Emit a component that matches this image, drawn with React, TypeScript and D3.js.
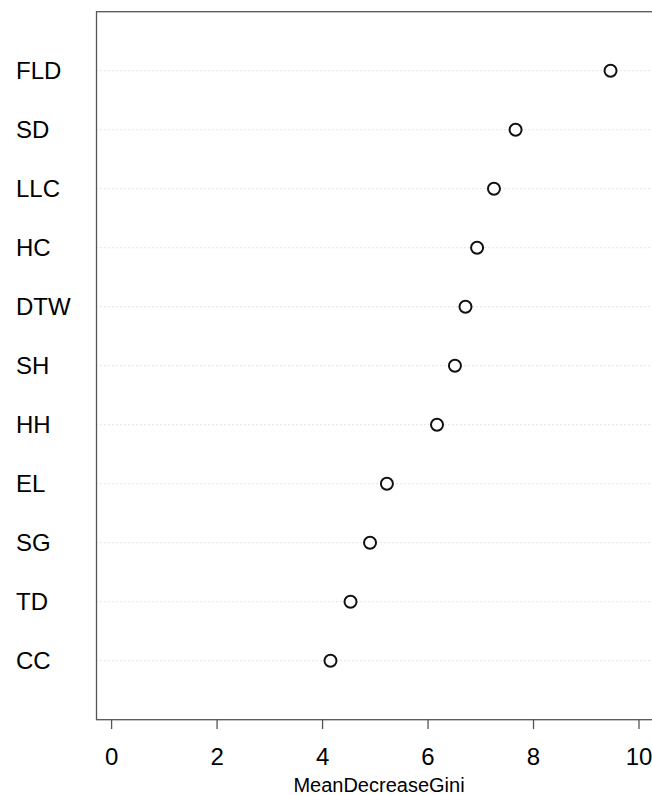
import React from "react";
import * as d3 from "d3";

const categories = ["FLD", "SD", "LLC", "HC", "DTW", "SH", "HH", "EL", "SG", "TD", "CC"];
const values = [9.46, 7.66, 7.25, 6.93, 6.71, 6.51, 6.17, 5.22, 4.9, 4.53, 4.15];
const xTicks = [0, 2, 4, 6, 8, 10];
const xTitle = "MeanDecreaseGini";

const W = 652;
const H = 795;
const left = 96.5;
const top = 11.7;
const bottom = 719.7;
const right = 700;

export default function App() {
  const x = d3.scaleLinear().domain([0, 10]).range([111.6, 639]);
  const n = categories.length;
  const y = d3.scaleLinear().domain([0, n + 1]).range([bottom, top]);
  const font = "'Liberation Sans', Arial, Helvetica, sans-serif";

  return (
    <div style={{ position: "absolute", left: 0, top: 0 }}>
      <svg width={W} height={H} style={{ display: "block", background: "#fff" }}>
        {categories.map((c, i) => {
          const yy = y(n - i);
          return (
            <g key={c}>
              <line
                x1={left}
                x2={right}
                y1={yy}
                y2={yy}
                stroke="#c8c8c8"
                strokeWidth={1}
                strokeDasharray="1 3"
              />
              <text x={16} y={yy + 8.5} fontFamily={font} fontSize={24} fill="#000">
                {c}
              </text>
            </g>
          );
        })}
        {values.map((v, i) => (
          <circle
            key={i}
            cx={x(v)}
            cy={y(n - i)}
            r={6}
            fill="#fff"
            stroke="#111"
            strokeWidth={2}
          />
        ))}
        <rect
          x={left}
          y={top}
          width={right - left}
          height={bottom - top}
          fill="none"
          stroke="#555"
          strokeWidth={1.3}
        />
        {xTicks.map((t) => (
          <g key={t}>
            <line x1={x(t)} x2={x(t)} y1={bottom} y2={729} stroke="#555" strokeWidth={1.3} />
            <text
              x={x(t)}
              y={764.5}
              textAnchor="middle"
              fontFamily={font}
              fontSize={24}
              fill="#000"
            >
              {t}
            </text>
          </g>
        ))}
        <text x={379} y={792} textAnchor="middle" fontFamily={font} fontSize={20} fill="#000">
          {xTitle}
        </text>
      </svg>
    </div>
  );
}
